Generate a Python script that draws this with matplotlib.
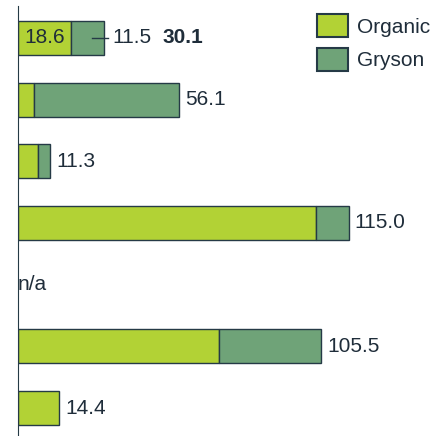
import matplotlib
matplotlib.use("Agg")
import matplotlib.pyplot as plt
from matplotlib.patches import Patch

# data (None = n/a)
rows = ["r1", "r2", "r3", "r4", "r5", "r6", "r7"]
organic = [18.6, 5.6, 7.2, 103.5, None, 70.0, 14.4]
gryson = [11.5, 50.5, 4.1, 11.5, None, 35.5, 0.0]
totals = [30.1, 56.1, 11.3, 115.0, None, 105.5, 14.4]

c_org = "#b2d235"
c_gry = "#6fa378"
c_edge = "#253a46"
c_txt = "#1f2d3a"

plt.rcParams['font.family'] = ['Liberation Sans', 'DejaVu Sans']

W, H = 433, 436
fig = plt.figure(figsize=(W / 100, H / 100), dpi=100)
ax = fig.add_axes([17.5 / W, 0, (W - 17.5) / W, (H - 6) / H])

pxu = 2.88  # pixels per data unit
step = 61.7
ax.set_xlim(0, (W - 17.5) / pxu)
ax.set_ylim(6 + 28 / step, -(38 - 6) / step)

for i, (o, g, t) in enumerate(zip(organic, gryson, totals)):
    if o is None:
        ax.text(0, i, "n/a", ha="left", va="center", fontsize=15, color=c_txt)
        continue
    ax.barh(i, o, height=0.55, color=c_org, edgecolor=c_edge, linewidth=1)
    if g > 0:
        ax.barh(i, g, left=o, height=0.55, color=c_gry, edgecolor=c_edge, linewidth=1)
    if i == 0:
        ax.text(o / 2, i, f"{o:.1f}", ha="center", va="center", fontsize=15, color=c_txt)
        ax.plot([o + g * 0.62, t + 4 / pxu], [i, i], color=c_edge, lw=1)
        ax.annotate(f"{g:.1f}", xy=(t, i), xytext=(8, 0), textcoords="offset pixels",
                    ha="left", va="center", fontsize=15, color=c_txt)
        ax.annotate(f"{t:.1f}", xy=(t, i), xytext=(58, 0), textcoords="offset pixels",
                    ha="left", va="center", fontsize=15, color=c_txt, fontweight="bold")
    else:
        ax.annotate(f"{t:.1f}", xy=(t, i), xytext=(6, 0), textcoords="offset pixels",
                    ha="left", va="center", fontsize=15, color=c_txt)

for s in ["top", "right", "bottom"]:
    ax.spines[s].set_visible(False)
ax.spines["left"].set_color(c_edge)
ax.set_xticks([])
ax.set_yticks([])

handles = [Patch(facecolor=c_org, edgecolor=c_edge, linewidth=1.5, label="Organic"),
           Patch(facecolor=c_gry, edgecolor=c_edge, linewidth=1.5, label="Gryson")]
fig.legend(handles=handles, loc="upper left", bbox_to_anchor=(317 / W, 1 - 14 / H),
           frameon=False, fontsize=15, handlelength=1.5, handleheight=1.35,
           handletextpad=0.43, labelspacing=0.5, borderpad=0, borderaxespad=0,
           labelcolor=c_txt)

fig.savefig("out.png", dpi=100)
